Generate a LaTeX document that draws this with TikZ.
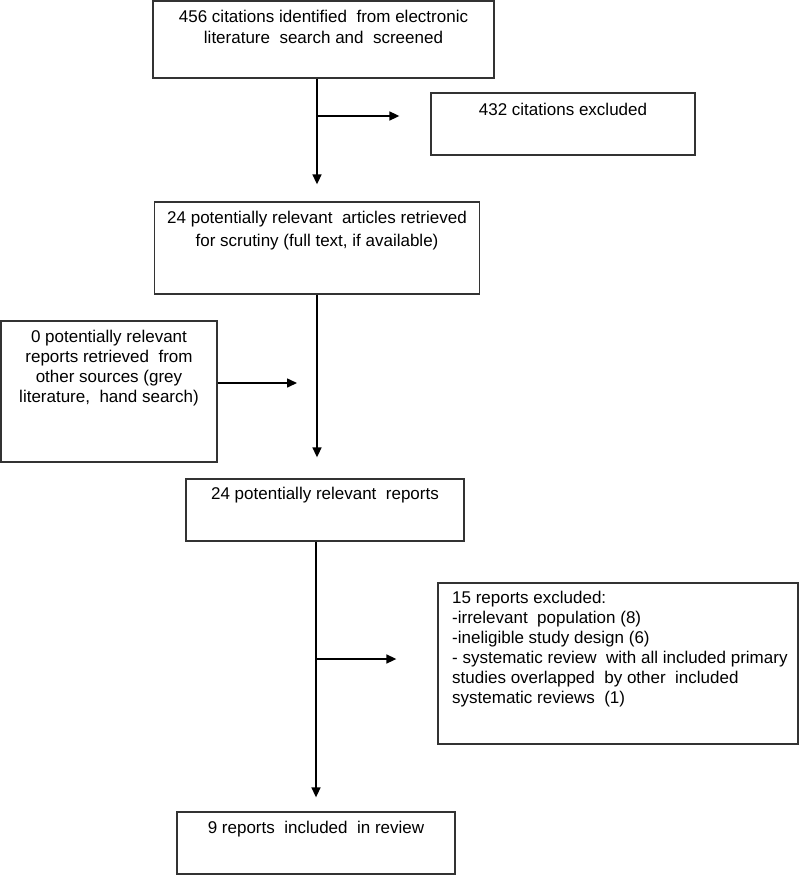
\documentclass[tikz,border=0pt]{standalone}
\usepackage{fontspec}
\setmainfont{Liberation Sans}
\usetikzlibrary{arrows.meta}
\begin{document}
\begin{tikzpicture}[x=1pt,y=-1pt,
  box/.style={draw=black!80,line width=1.3pt,rectangle,inner sep=0pt},
  txt/.style={anchor=north,inner sep=0pt,align=center,font=\fontsize{17}{21}\selectfont},
  arr/.style={line width=1.6pt,-{Triangle[length=10pt,width=9pt]}}]
\useasboundingbox (0,0) rectangle (800,875);
% boxes
\node[box,minimum width=341pt,minimum height=77pt] (box1) at (323.5,39.5) {};
\node[box,minimum width=264pt,minimum height=62pt] (box2) at (563,124) {};
\node[box,minimum width=325pt,minimum height=92pt] (box3) at (317,248) {};
\node[box,minimum width=216pt,minimum height=141pt] (box4) at (109,391.5) {};
\node[box,minimum width=278pt,minimum height=62pt] (box5) at (325,510) {};
\node[box,minimum width=360pt,minimum height=161pt] (box6) at (618,663.5) {};
\node[box,minimum width=278pt,minimum height=62pt] (box7) at (316,843) {};
% texts
\node[txt] (t1) at (323.5,10) {456 citations identified \ from electronic\\literature \ search and \ screened};
\node[txt] (t2) at (563,103) {432 citations excluded};
\node[txt,font=\fontsize{17}{23}\selectfont] (t3) at (317,211) {24 potentially relevant \ articles retrieved\\for scrutiny (full text, if available)};
\node[txt,font=\fontsize{17}{20}\selectfont] (t4) at (109,330) {0 potentially relevant\\reports retrieved \ from\\other sources (grey\\literature, \ hand search)};
\node[txt] (t5) at (325,487) {24 potentially relevant \ reports};
\node[txt,anchor=north west,align=left,font=\fontsize{17}{20}\selectfont] (t6) at (452,591) {15 reports excluded:\\-irrelevant \ population (8)\\-ineligible study design (6)\\- systematic review \ with all included primary\\studies overlapped \ by other \ included\\systematic reviews \ (1)};
\node[txt] (t7) at (316,821) {9 reports \ included \ in review};
% connectors
\coordinate (j1) at (317,116);
\coordinate (m4) at (297,383);
\coordinate (j2) at (316,659);
\draw[arr,shorten >=17pt] (box1.south -| box3.north) -- (box3.north);
\draw[arr,shorten >=31pt] (j1) -- (j1 -| box2.west);
\draw[arr,shorten >=21pt] (box3.south) -- (box3.south |- box5.north);
\draw[arr] (box4.east |- m4) -- (m4);
\draw[arr,shorten >=14pt] (box5.south -| box7.north) -- (box7.north);
\draw[arr,shorten >=41pt] (j2) -- (j2 -| box6.west);
\end{tikzpicture}
\end{document}
